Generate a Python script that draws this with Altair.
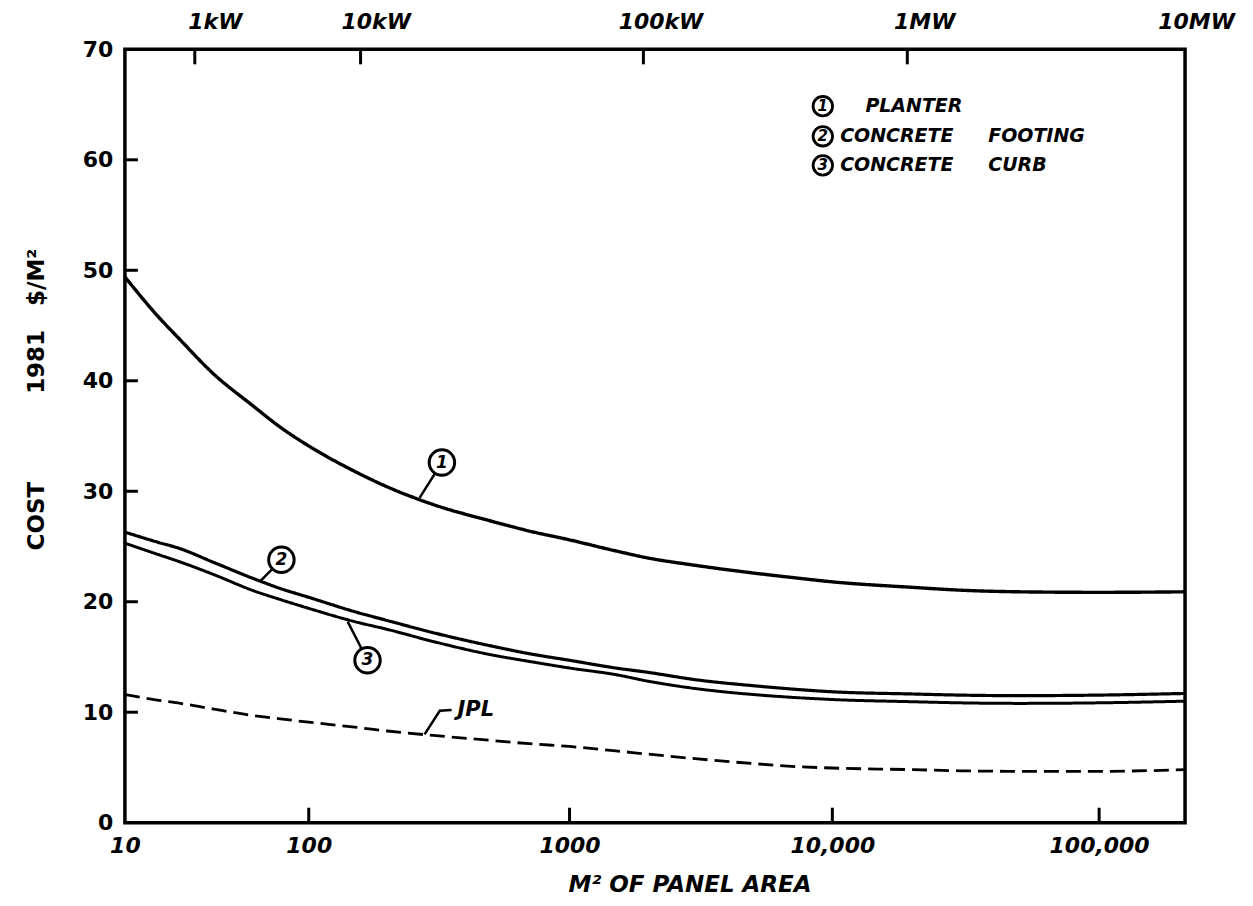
import altair as alt
import pandas as pd

# ---------------- data ----------------
area = [10, 15, 20, 30, 50, 70, 100, 150, 200, 300, 500, 700, 1000, 1500,
        2000, 3000, 5000, 7000, 10000, 20000, 30000, 50000, 100000, 212000]
planter = [49.4, 45.9, 43.7, 40.7, 37.7, 35.8, 34.1, 31.8, 30.4, 28.8, 27.3, 26.4,
           25.6, 24.6, 23.95, 23.3, 22.6, 22.2, 21.8, 21.3, 21.05, 20.9, 20.85, 20.9]
footing = [26.3, 25.4, 24.8, 23.6, 22.1, 21.2, 20.4, 19.1, 18.3, 17.2, 16.0, 15.3,
           14.7, 14.0, 13.6, 12.95, 12.4, 12.1, 11.85, 11.65, 11.55, 11.5, 11.55, 11.7]
curb = [25.3, 24.3, 23.6, 22.5, 21.0, 20.2, 19.4, 18.2, 17.5, 16.4, 15.2, 14.6,
        14.0, 13.4, 12.8, 12.15, 11.6, 11.35, 11.15, 10.95, 10.85, 10.8, 10.85, 11.0]
jpl = [11.6, 11.1, 10.8, 10.3, 9.7, 9.4, 9.1, 8.65, 8.3, 7.9, 7.45, 7.15,
       6.9, 6.5, 6.2, 5.8, 5.35, 5.1, 4.95, 4.8, 4.7, 4.65, 4.65, 4.8]
series_names = ["PLANTER", "CONCRETE FOOTING", "CONCRETE CURB", "JPL"]

x_tick_values = [10, 100, 1000, 10000, 100000]
x_tick_labels = ["10", "100", "1000", "10,000", "100,000"]
y_tick_values = [0, 10, 20, 30, 40, 50, 60, 70]
power_tick_area = [24, 158, 1910, 19100]          # where the kW ticks sit on the m² axis
power_kw = [1, 10, 100, 1000, 10000]
power_labels = ["1kW", "10kW", "100kW", "1MW", "10MW"]

# callouts on the curves (data coordinates)
callout_num = ["1", "2", "3"]
callout_area = [324, 71, 168]
callout_cost = [32.6, 23.8, 14.7]
leader_from_area = [266, 54, 141]
leader_from_cost = [29.4, 21.8, 18.2]
jpl_leader_area = [278, 318, 353]
jpl_leader_cost = [8.0, 10.13, 10.2]
jpl_label_area = [372]
jpl_label_cost = [10.2]

# key in the upper right (data coordinates)
key_num = ["1", "2", "3"]
key_circle_area = [9200, 9200, 9200]
key_cost = [64.85, 62.13, 59.5]
key_words = ["PLANTER", "CONCRETE", "FOOTING", "CONCRETE", "CURB"]
key_word_area = [13300, 10700, 38400, 10700, 38400]
key_word_cost = [64.85, 62.13, 62.13, 59.5, 59.5]

# ---------------- tables ----------------
curves = pd.DataFrame({
    "area": area * 4,
    "cost": planter + footing + curb + jpl,
    "series": sum([[s] * len(area) for s in series_names], []),
})

leaders = []
for i in range(3):
    leaders.append({"id": f"c{i}", "ord": 0, "area": leader_from_area[i], "cost": leader_from_cost[i]})
    leaders.append({"id": f"c{i}", "ord": 1, "area": callout_area[i], "cost": callout_cost[i]})
for j, (a, c) in enumerate(zip(jpl_leader_area, jpl_leader_cost)):
    leaders.append({"id": "jpl", "ord": j, "area": a, "cost": c})
leaders = pd.DataFrame(leaders)

callouts = pd.DataFrame({"num": callout_num, "area": callout_area, "cost": callout_cost})
jpl_lab = pd.DataFrame({"txt": ["JPL"], "area": jpl_label_area, "cost": jpl_label_cost})
key_c = pd.DataFrame({"num": key_num, "area": key_circle_area, "cost": key_cost})
key_w = pd.DataFrame({"txt": key_words, "area": key_word_area, "cost": key_word_cost})
power_df = pd.DataFrame({"kw": power_kw})


def expr_from(values, labels):
    e = "''"
    for v, l in reversed(list(zip(values, labels))):
        e = f"datum.value == {v} ? '{l}' : ({e})"
    return e


W, H = 1061, 774
FONT = "DejaVu Sans"
NB = "\u00a0"

# hand-drawn log axis: decades are not equally wide -> piecewise log scale
xscale = alt.Scale(type="log", domain=[10, 100, 1000, 10000, 100000, 212000],
                   range=[0, 184, 445, 708, 975, W], nice=False)
# power scale along the top (labels sit a little right of their ticks)
kwscale = alt.Scale(type="log", domain=power_kw, range=[90, 251, 536, 800, 1072], nice=False)
yscale = alt.Scale(domain=[0, 70], nice=False, zero=True)

bottom_axis = alt.Axis(values=x_tick_values, labelExpr=expr_from(x_tick_values, x_tick_labels),
                       ticks=False, tickSize=0, domain=False, grid=False, labelPadding=13,
                       labelFlush=False,
                       labelFontSize=22, labelFontWeight="bold", labelFontStyle="italic",
                       labelFont=FONT, labelColor="black",
                       title="M² OF PANEL AREA", titleFontSize=23, titleFontWeight="bold",
                       titleFontStyle="italic", titleFont=FONT, titleColor="black",
                       titleX=565, titleY=51, titleAlign="center")
left_axis = alt.Axis(values=y_tick_values, ticks=False, tickSize=0, domain=False, grid=False,
                     labelPadding=12, labelFontSize=22, labelFontWeight="bold",
                     labelFont=FONT, labelColor="black",
                     title="COST" + NB * 11 + "1981" + NB * 3 + "$/M²", titleFontSize=23,
                     titleFontWeight="bold", titleFont=FONT, titleColor="black",
                     titleX=-88, titleY=350, titleBaseline="middle", titleAlign="center",
                     titleAngle=270)
top_axis = alt.Axis(orient="top", values=power_kw,
                    labelExpr=expr_from(power_kw, power_labels),
                    ticks=False, tickSize=0, domain=False, grid=False, labelPadding=16,
                    labelFlush=False, labelFontSize=22, labelFontWeight="bold",
                    labelFontStyle="italic", labelFont=FONT, labelColor="black", title=None)

X = lambda ax=None: alt.X("area:Q", scale=xscale, axis=ax)
Y = lambda ax=None: alt.Y("cost:Q", scale=yscale, axis=ax)

lines = alt.Chart(curves).mark_line(interpolate="monotone", color="black").encode(
    x=X(bottom_axis), y=Y(left_axis), detail="series:N",
    strokeDash=alt.StrokeDash("series:N", scale=alt.Scale(domain=series_names,
                              range=[[1, 0], [1, 0], [1, 0], [15, 7]]), legend=None),
    strokeWidth=alt.StrokeWidth("series:N", scale=alt.Scale(domain=series_names,
                                range=[3.4, 2.8, 2.8, 3.6]), legend=None),
)

left_ticks = alt.Chart(pd.DataFrame({"cost": y_tick_values[1:-1]})).mark_rule(
    color="black", strokeWidth=3).encode(y=Y(), x=alt.value(0), x2=alt.value(13))
bottom_ticks = alt.Chart(pd.DataFrame({"area": x_tick_values[1:]})).mark_rule(
    color="black", strokeWidth=3).encode(x=X(), y=alt.value(H), y2=alt.value(H - 15))
top_ticks = alt.Chart(pd.DataFrame({"area": power_tick_area})).mark_rule(
    color="black", strokeWidth=3).encode(x=X(), y=alt.value(0), y2=alt.value(15))
top_labels = alt.Chart(power_df).mark_point(opacity=0).encode(
    x=alt.X("kw:Q", scale=kwscale, axis=top_axis), y=alt.value(0))

leader_lines = alt.Chart(leaders).mark_line(color="black", strokeWidth=2.5).encode(
    x=X(), y=Y(), detail="id:N", order="ord:Q")

circles = alt.Chart(callouts).mark_point(shape="circle", size=650, filled=True, fill="white",
                                         stroke="black", strokeWidth=3, opacity=1).encode(x=X(), y=Y())
circle_nums = alt.Chart(callouts).mark_text(font=FONT, fontSize=17, fontWeight="bold",
                                            fontStyle="italic", color="black").encode(
    x=X(), y=Y(), text="num:N")

jpl_text = alt.Chart(jpl_lab).mark_text(font=FONT, fontSize=21, fontWeight="bold",
                                        fontStyle="italic", align="left", baseline="middle",
                                        color="black").encode(x=X(), y=Y(), text="txt:N")

key_circles = alt.Chart(key_c).mark_point(shape="circle", size=380, filled=True, fill="white",
                                          stroke="black", strokeWidth=2.8, opacity=1).encode(x=X(), y=Y())
key_nums = alt.Chart(key_c).mark_text(font=FONT, fontSize=15, fontWeight="bold",
                                      fontStyle="italic", color="black").encode(
    x=X(), y=Y(), text="num:N")
key_text = alt.Chart(key_w).mark_text(font=FONT, fontSize=19, fontWeight="bold",
                                      fontStyle="italic", align="left", baseline="middle",
                                      color="black").encode(x=X(), y=Y(), text="txt:N")

chart = alt.layer(
    lines, left_ticks, bottom_ticks, top_ticks, top_labels, leader_lines, circles,
    circle_nums, jpl_text, key_circles, key_nums, key_text,
).resolve_scale(x="independent").resolve_axis(x="independent", y="independent").properties(
    width=W, height=H, background="white",
    autosize=alt.AutoSizeParams(type="none"),
    padding={"left": 117, "top": 41, "right": 60, "bottom": 80},
).configure_view(stroke="black", strokeWidth=3.5)

chart.save("out.html", embed_options={"renderer": "svg", "actions": False})
